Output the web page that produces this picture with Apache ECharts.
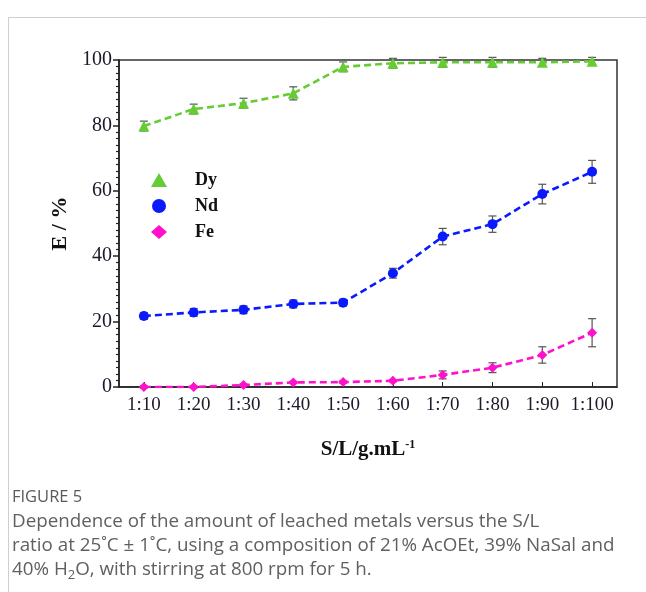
<!DOCTYPE html>
<html><head><meta charset="utf-8">
<script src="https://cdn.jsdelivr.net/npm/echarts@6/dist/echarts.min.js"></script>
<style>html,body{margin:0;padding:0;background:#fff}#c{width:646px;height:592px}</style>
</head><body><div id="c"></div>
<script>
var categories = ['1:10','1:20','1:30','1:40','1:50','1:60','1:70','1:80','1:90','1:100'];
var dyValues = [79.8, 85.0, 86.8, 89.8, 97.9, 99.0, 99.3, 99.3, 99.3, 99.6];
var dyErr    = [1.5, 1.5, 1.5, 2.0, 1.5, 1.5, 1.5, 1.5, 1.2, 1.2];
var ndValues = [21.7, 22.8, 23.6, 25.4, 25.8, 34.8, 46.0, 49.8, 59.0, 65.8];
var ndErr    = [1.0, 1.2, 1.2, 1.2, 1.0, 1.5, 2.5, 2.5, 3.0, 3.5];
var feValues = [0.0, 0.0, 0.6, 1.4, 1.5, 1.9, 3.7, 5.9, 9.8, 16.6];
var feErr    = [0.3, 0.3, 0.3, 0.3, 0.3, 0.3, 1.2, 1.5, 2.5, 4.3];
var yTicks = [0, 20, 40, 60, 80, 100];

function errData(v, e){ return v.map(function(y,i){ return [i, y-e[i], y+e[i]]; }); }
function errSeries(v, e){
  return {
    type:'custom', z:1, silent:true,
    data: errData(v,e),
    renderItem: function(params, api){
      var lo = api.coord([api.value(0), api.value(1)]);
      var hi = api.coord([api.value(0), api.value(2)]);
      var w = 4;
      var st = {stroke:'#555', lineWidth:1.2};
      return {type:'group', children:[
        {type:'line', shape:{x1:lo[0],y1:lo[1],x2:hi[0],y2:hi[1]}, style:st},
        {type:'line', shape:{x1:lo[0]-w,y1:lo[1],x2:lo[0]+w,y2:lo[1]}, style:st},
        {type:'line', shape:{x1:hi[0]-w,y1:hi[1],x2:hi[0]+w,y2:hi[1]}, style:st}
      ]};
    }
  };
}
var serif = '"Liberation Serif","Times New Roman",serif';
var sans = '"Open Sans",sans-serif';
var chart = echarts.init(document.getElementById('c'));
chart.setOption({
  animation:false,
  backgroundColor:'#fff',
  grid:{left:119, right:29, top:60, bottom:205, show:true, borderColor:'#333', borderWidth:1.5, backgroundColor:'transparent'},
  legend:{
    orient:'vertical', left:146, top:166, itemGap:8, itemWidth:16, itemHeight:14,
    textStyle:{fontFamily:serif, fontWeight:'bold', fontSize:18, lineHeight:16, color:'#111', padding:[0,0,0,23]},
    data:[{name:'Dy', icon:'triangle'},{name:'Nd', icon:'circle'},{name:'Fe', icon:'diamond'}]
  },
  xAxis:{
    type:'category', data:categories, boundaryGap:true,
    axisLine:{lineStyle:{color:'#222', width:1.5}},
    axisTick:{show:true, inside:true, alignWithLabel:true, length:5, lineStyle:{color:'#222'}},
    axisLabel:{interval:0, fontFamily:serif, fontSize:19, color:'#1a1a2a', margin:9},
    name:'{a|S/L/g.mL}{s|-1}', nameLocation:'middle', nameGap:52,
    nameTextStyle:{rich:{
      a:{fontFamily:serif, fontWeight:'bold', fontSize:21, color:'#111'},
      s:{fontFamily:serif, fontWeight:'bold', fontSize:12, color:'#111', verticalAlign:'top', padding:[0,0,10,0]}
    }}
  },
  yAxis:{
    type:'value', min:0, max:100, interval:20,
    axisLine:{show:true, lineStyle:{color:'#222', width:1.5}},
    axisTick:{show:true, inside:false, length:6, lineStyle:{color:'#222', width:1.5}},
    minorTick:{show:true, splitNumber:10, length:3, lineStyle:{color:'#222', width:1.2}},
    splitLine:{show:false},
    axisLabel:{fontFamily:serif, fontSize:20, color:'#1a1a2a', margin:7,
      formatter:function(v){ return yTicks.indexOf(v) >= 0 ? String(v) : ''; }},
    name:'E / %', nameLocation:'middle', nameGap:47, nameRotate:90,
    nameTextStyle:{fontFamily:serif, fontWeight:'bold', fontSize:22, color:'#111'}
  },
  series:[
    errSeries(dyValues, dyErr),
    errSeries(ndValues, ndErr),
    errSeries(feValues, feErr),
    {name:'Dy', type:'line', data:dyValues, z:3, symbol:'triangle', symbolSize:11,
     itemStyle:{color:'#66cc33'}, lineStyle:{color:'#66cc33', width:2.6, type:[7,4]}},
    {name:'Nd', type:'line', data:ndValues, z:3, symbol:'circle', symbolSize:10,
     itemStyle:{color:'#0a1aff'}, lineStyle:{color:'#0a1aff', width:2.6, type:[7,4]}},
    {name:'Fe', type:'line', data:feValues, z:3, symbol:'diamond', symbolSize:10,
     itemStyle:{color:'#ff11cc'}, lineStyle:{color:'#ff11cc', width:2.6, type:[7,4]}}
  ],
  graphic:[
    {type:'line', shape:{x1:8.5,y1:17.5,x2:646,y2:17.5}, style:{stroke:'#cfcfcf', lineWidth:1}},
    {type:'line', shape:{x1:8.5,y1:17.5,x2:8.5,y2:592}, style:{stroke:'#cfcfcf', lineWidth:1}},
    {type:'text', left:12, top:489, style:{text:'FIGURE 5', fontFamily:sans, fontSize:16.5, fill:'#5a5a5a'}},
    {type:'text', left:12, top:510, style:{
      text:'Dependence of the amount of leached metals versus the S/L\nratio at 25˚C ± 1˚C, using a composition of 21% AcOEt, 39% NaSal and\n40% H{sub|2}O, with stirring at 800 rpm for 5 h.',
      fontFamily:sans, fontSize:18.8, lineHeight:24, fill:'#606060',
      rich:{sub:{fontFamily:sans, fontSize:13, fill:'#606060', verticalAlign:'bottom', padding:[9,0,0,0]}}
    }}
  ]
});
</script>
</body></html>
